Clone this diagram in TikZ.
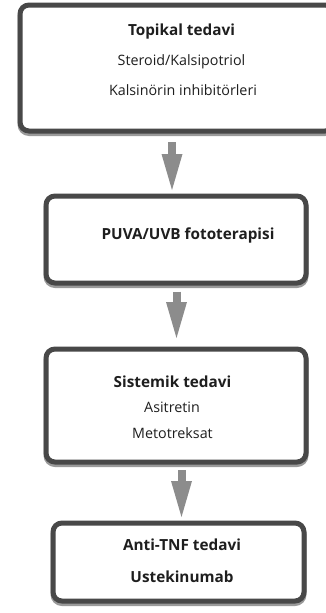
\documentclass[tikz,border=0pt]{standalone}
\usepackage{fontspec}
\setmainfont{Open Sans}
\usetikzlibrary{arrows.meta,shadows}
\definecolor{boxline}{HTML}{484848}
\definecolor{boxshade}{HTML}{9A9A9A}
\definecolor{flowgray}{HTML}{8C8C8C}
\definecolor{ink}{HTML}{1E1E1E}
\tikzset{
  stagebox/.style={draw=boxline, line width=5pt, rounded corners=9pt, fill=white,
    outer sep=0pt, inner sep=0pt,
    preaction={draw=boxshade, line width=5pt, transform canvas={yshift=-2.5pt}}},
  title/.style={font=\fontsize{15.3}{17}\selectfont\bfseries, text=ink, inner sep=0pt},
  item/.style={font=\fontsize{14.3}{16}\selectfont, text=ink, inner sep=0pt},
  flow/.style={draw=flowgray, line width=8pt,
    -{Triangle[length=36pt,width=21pt,line width=0pt]}},
}
\begin{document}
\begin{tikzpicture}[x=1pt,y=-1pt]
\useasboundingbox (0,0) rectangle (326,613);

% treatment stages
\node[stagebox, minimum width=314pt, minimum height=126pt] (b1) at (177,68) {};
\node[stagebox, minimum width=260pt, minimum height=87pt] (b2) at (176,239.5) {};
\node[stagebox, minimum width=260pt, minimum height=113pt] (b3) at (176,405.5) {};
\node[stagebox, minimum width=251pt, minimum height=78pt] (b4) at (178.5,562) {};

% labels
\node[title] (t1) at (181.5,32) {Topikal tedavi};
\node[item]  (t1a) at (181.5,62) {Steroid/Kalsipotriol};
\node[item]  (t1b) at (183,90) {Kalsinörin inhibitörleri};

\node[title] (t2) at (188,235) {PUVA/UVB fototerapisi};

\node[title] (t3) at (172.5,382) {Sistemik tedavi};
\node[item]  (t3a) at (172,407) {Asitretin};
\node[item]  (t3b) at (172.5,433) {Metotreksat};

\node[title] (t4) at (182,545) {Anti-TNF tedavi};
\node[title] (t4a) at (182,577) {Ustekinumab};

% arrows between stages
\draw[flow, shorten <=11pt, shorten >=6pt] (b1.south -| 172,0) -- (b2.north -| 172,0);
\draw[flow, shorten <=8.5pt, shorten >=11pt] (b2.south -| 176.5,0) -- (b3.north -| 176.5,0);
\draw[flow, shorten <=8pt, shorten >=6pt] (b3.south -| 181.5,0) -- (b4.north -| 181.5,0);
\end{tikzpicture}
\end{document}
